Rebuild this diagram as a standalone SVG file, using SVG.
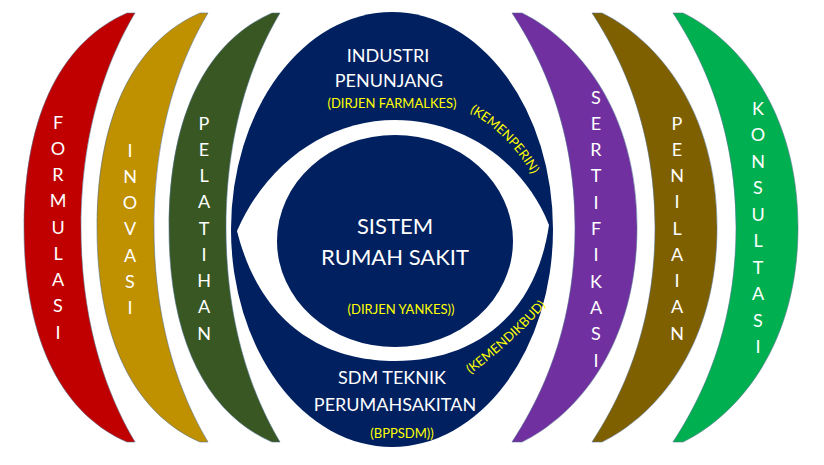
<svg xmlns="http://www.w3.org/2000/svg" width="824" height="465" viewBox="0 0 824 465">
<style>
.cres{stroke:#50708f;stroke-width:0.8;stroke-opacity:0.7}
.v{font-family:Lato,"Liberation Sans",sans-serif;font-size:18px;fill:#ffffff;text-anchor:middle}
.w{font-family:Lato,"Liberation Sans",sans-serif;font-size:18px;fill:#ffffff;text-anchor:middle}
.big{font-size:22px}
.y{font-family:Lato,"Liberation Sans",sans-serif;font-size:13px;fill:#ffff00;text-anchor:middle}
</style>
<defs>
<path id="crescL" d="M0,13 L-8,13 C-70,40 -111,110 -111,227.5 C-111,345 -70,415 -8,442 L0,442 C-22,405 -54,335 -54,227.5 C-54,120 -22,50 0,13 Z"/>
<path id="crescR" d="M0,13 L10,13 C65,40 125,110 125,227.5 C125,345 65,415 10,442 L0,442 C24,405 63,335 63,227.5 C63,120 24,50 0,13 Z"/>
<path id="arcTop" d="M 466 110 Q 510 134 534 178"/>
<path id="arcBot" d="M 468 376 Q 512 344 548 303"/>
</defs>
<rect width="824" height="465" fill="#ffffff"/>

<g id="formulasi">
<use href="#crescL" x="135" class="cres" fill="#c00000"/>
<text class="v"><tspan x="58" y="128.5">F</tspan><tspan x="58" y="154.8">O</tspan><tspan x="58" y="181">R</tspan><tspan x="58" y="207.3">M</tspan><tspan x="58" y="233.5">U</tspan><tspan x="58" y="259.8">L</tspan><tspan x="58" y="286">A</tspan><tspan x="58" y="312.3">S</tspan><tspan x="58" y="338.5">I</tspan></text>
</g>

<g id="inovasi">
<use href="#crescL" x="208" class="cres" fill="#bf9000"/>
<text class="v"><tspan x="130" y="156.5">I</tspan><tspan x="130" y="182.8">N</tspan><tspan x="130" y="209">O</tspan><tspan x="130" y="235.3">V</tspan><tspan x="130" y="261.5">A</tspan><tspan x="130" y="287.8">S</tspan><tspan x="130" y="314">I</tspan></text>
</g>

<g id="pelatihan">
<use href="#crescL" x="280" class="cres" fill="#385723"/>
<text class="v"><tspan x="204" y="129.5">P</tspan><tspan x="204" y="155.8">E</tspan><tspan x="204" y="182">L</tspan><tspan x="204" y="208.3">A</tspan><tspan x="204" y="234.5">T</tspan><tspan x="204" y="260.8">I</tspan><tspan x="204" y="287">H</tspan><tspan x="204" y="313.3">A</tspan><tspan x="204" y="339.5">N</tspan></text>
</g>

<g id="sertifikasi">
<use href="#crescR" x="512" class="cres" fill="#7030a0"/>
<text class="v"><tspan x="596" y="103.5">S</tspan><tspan x="596" y="129.8">E</tspan><tspan x="596" y="156.1">R</tspan><tspan x="596" y="182.4">T</tspan><tspan x="596" y="208.7">I</tspan><tspan x="596" y="235">F</tspan><tspan x="596" y="261.3">I</tspan><tspan x="596" y="287.6">K</tspan><tspan x="596" y="313.9">A</tspan><tspan x="596" y="340.2">S</tspan><tspan x="596" y="366.5">I</tspan></text>
</g>

<g id="penilaian">
<use href="#crescR" x="592" class="cres" fill="#7f6000"/>
<text class="v"><tspan x="677" y="129.5">P</tspan><tspan x="677" y="155.8">E</tspan><tspan x="677" y="182">N</tspan><tspan x="677" y="208.3">I</tspan><tspan x="677" y="234.5">L</tspan><tspan x="677" y="260.8">A</tspan><tspan x="677" y="287">I</tspan><tspan x="677" y="313.3">A</tspan><tspan x="677" y="339.5">N</tspan></text>
</g>

<g id="konsultasi">
<use href="#crescR" x="673" class="cres" fill="#00b050"/>
<text class="v"><tspan x="758" y="114.5">K</tspan><tspan x="758" y="141">O</tspan><tspan x="758" y="167.5">N</tspan><tspan x="758" y="194">S</tspan><tspan x="758" y="220.5">U</tspan><tspan x="758" y="247">L</tspan><tspan x="758" y="273.5">T</tspan><tspan x="758" y="300">A</tspan><tspan x="758" y="326.5">S</tspan><tspan x="758" y="353">I</tspan></text>
</g>

<g id="industri-sdm">
<ellipse cx="392" cy="229.5" rx="161" ry="217.5" fill="#002060"/>
<path fill="#ffffff" d="M 237 231 C 268 160 330 120 395 120 C 460 120 522 158 549 225 C 535 320 470 361 395 361 C 330 361 262 330 237 231 Z"/>
<text class="w" x="388" y="61.5">INDUSTRI</text>
<text class="w" x="389" y="86.5">PENUNJANG</text>
<text class="y" x="392" y="108">(DIRJEN FARMALKES)</text>
<text class="y"><textPath href="#arcTop" startOffset="50%">(KEMENPERIN)</textPath></text>
<text class="y"><textPath href="#arcBot" startOffset="50%">(KEMENDIKBUD)</textPath></text>
<text class="w" x="392" y="384">SDM TEKNIK</text>
<text class="w" x="395" y="411">PERUMAHSAKITAN</text>
<text class="y" x="402" y="438">(BPPSDM))</text>
</g>

<g id="sistem-rumah-sakit">
<ellipse cx="395" cy="241" rx="118" ry="106" fill="#002060"/>
<text class="w big" x="395" y="234">SISTEM</text>
<text class="w big" x="395" y="265">RUMAH SAKIT</text>
<text class="y" x="401" y="314">(DIRJEN YANKES))</text>
</g>
</svg>
